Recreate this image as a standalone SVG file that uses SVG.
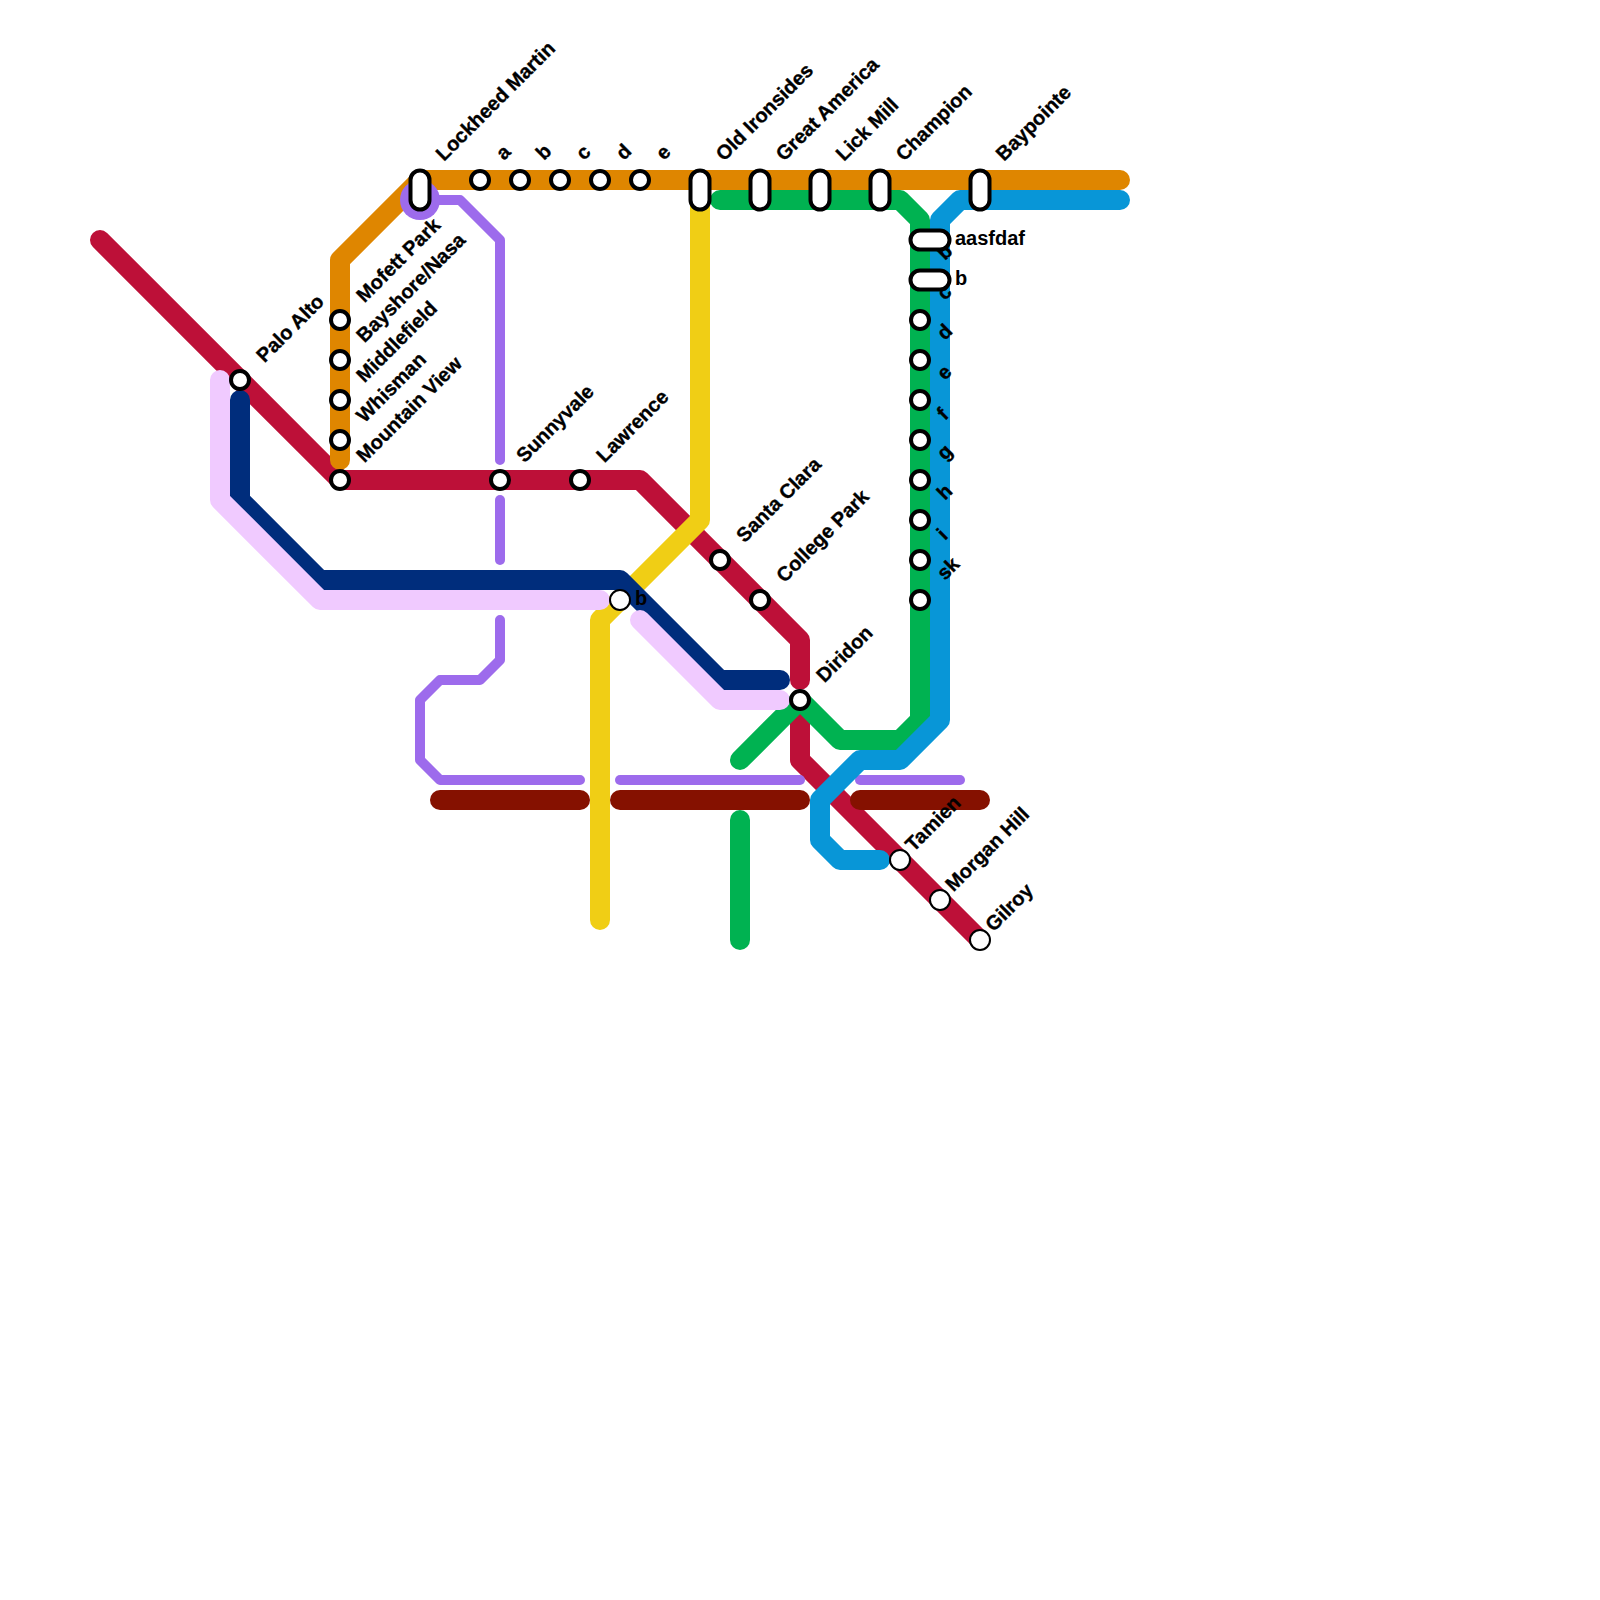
<svg xmlns="http://www.w3.org/2000/svg" width="1600" height="1600" viewBox="0 0 1600 1600">
<style>
.l{fill:none;stroke-linecap:round;stroke-linejoin:round;stroke-width:20}
.t{stroke-width:10}
.red{stroke:#bd1038}.or{stroke:#df8600}.yel{stroke:#f0ce15}.lav{stroke:#f0caff}.navy{stroke:#002d7c}.pur{stroke:#9d6bec}.dk{stroke:#851100}.grn{stroke:#00b251}.blu{stroke:#0896d7}
.s{fill:#fff;stroke:#000;stroke-width:4}
.s2{fill:#fff;stroke:#000;stroke-width:2}
text{font-family:"Liberation Sans",Arial,sans-serif;font-size:20px;font-weight:700;fill:#000}
.r{stroke:#000;stroke-width:.35}
</style>
<rect width="1600" height="1600" fill="#fff"/>
<g id="connectors">
<path class="l red" d="M100 240L340 480H640L800 640V680"/>
<path class="l red" d="M800 710V760L980 940"/>
<path class="l or" d="M340 460V260L420 180H1120"/>
<path class="l yel" d="M700 200V520L600 620V920"/>
<path class="l grn" d="M720 200H900L920 220V720L900 740H840L800 700L740 760"/>
<path class="l grn" d="M740 820V940"/>
<path class="l navy" d="M240 400V500L320 580H620L720 680H780"/>
<path class="l lav" d="M220 380V500L320 600H600"/>
<path class="l lav" d="M640 620L720 700H780"/>
<path class="l dk" d="M440 800H580"/>
<path class="l dk" d="M620 800H800"/>
<path class="l dk" d="M860 800H980"/>
<path class="l t pur" d="M420 200H460L500 240V460"/>
<path class="l t pur" d="M500 500V560"/>
<path class="l t pur" d="M500 620V660L480 680H440L420 700V760L440 780H580"/>
<path class="l t pur" d="M620 780H800"/>
<path class="l t pur" d="M860 780H960"/>
<path class="l blu" d="M1120 200H960L940 220V720L900 760H860L820 800V840L840 860H880"/>
</g>
<g id="stacked-labels">
<text class="r" transform="translate(945 261) rotate(-45)">b</text>
<text class="r" transform="translate(945 301) rotate(-45)">c</text>
</g>
<g id="n-lockheed"><circle cx="420" cy="200" r="20" fill="#9d6bec"/><rect class="s" x="410.500" y="170.500" width="19" height="39" rx="9.500"/><text class="r" transform="translate(444 162) rotate(-45)">Lockheed Martin</text></g>
<g id="n-a"><circle class="s" cx="480" cy="180" r="9"/><text class="r" transform="translate(504 161) rotate(-45)">a</text></g>
<g id="n-b"><circle class="s" cx="520" cy="180" r="9"/><text class="r" transform="translate(544 161) rotate(-45)">b</text></g>
<g id="n-c"><circle class="s" cx="560" cy="180" r="9"/><text class="r" transform="translate(584 161) rotate(-45)">c</text></g>
<g id="n-d"><circle class="s" cx="600" cy="180" r="9"/><text class="r" transform="translate(624 161) rotate(-45)">d</text></g>
<g id="n-e"><circle class="s" cx="640" cy="180" r="9"/><text class="r" transform="translate(664 161) rotate(-45)">e</text></g>
<g id="n-old"><rect class="s" x="690.500" y="170.500" width="19" height="39" rx="9.500"/><text class="r" transform="translate(724 162) rotate(-45)">Old Ironsides</text></g>
<g id="n-great"><rect class="s" x="750.500" y="170.500" width="19" height="39" rx="9.500"/><text class="r" transform="translate(784 162) rotate(-45)">Great America</text></g>
<g id="n-lick"><rect class="s" x="810.500" y="170.500" width="19" height="39" rx="9.500"/><text class="r" transform="translate(844 162) rotate(-45)">Lick Mill</text></g>
<g id="n-champion"><rect class="s" x="870.500" y="170.500" width="19" height="39" rx="9.500"/><text class="r" transform="translate(904 162) rotate(-45)">Champion</text></g>
<g id="n-baypointe"><rect class="s" x="970.500" y="170.500" width="19" height="39" rx="9.500"/><text class="r" transform="translate(1004 162) rotate(-45)">Baypointe</text></g>
<g id="n-aasfdaf"><rect class="s" x="910.500" y="230.500" width="39" height="19" rx="9.500"/><text x="955" y="245">aasfdaf</text></g>
<g id="n-b2"><rect class="s" x="910.500" y="270.500" width="39" height="19" rx="9.500"/><text x="955" y="285">b</text></g>
<g id="n-c1"><circle class="s" cx="920" cy="320" r="9"/><text class="r" transform="translate(945 341) rotate(-45)">d</text></g>
<g id="n-c2"><circle class="s" cx="920" cy="360" r="9"/><text class="r" transform="translate(945 381) rotate(-45)">e</text></g>
<g id="n-c3"><circle class="s" cx="920" cy="400" r="9"/><text class="r" transform="translate(945 421) rotate(-45)">f</text></g>
<g id="n-c4"><circle class="s" cx="920" cy="440" r="9"/><text class="r" transform="translate(945 461) rotate(-45)">g</text></g>
<g id="n-c5"><circle class="s" cx="920" cy="480" r="9"/><text class="r" transform="translate(945 501) rotate(-45)">h</text></g>
<g id="n-c6"><circle class="s" cx="920" cy="520" r="9"/><text class="r" transform="translate(945 541) rotate(-45)">i</text></g>
<g id="n-c7"><circle class="s" cx="920" cy="560" r="9"/><text class="r" transform="translate(945 581) rotate(-45)">sk</text></g>
<g id="n-c8"><circle class="s" cx="920" cy="600" r="9"/></g>
<g id="n-palo"><circle class="s" cx="240" cy="380" r="9"/><text class="r" transform="translate(264.500 363.500) rotate(-45)">Palo Alto</text></g>
<g id="n-mofett"><circle class="s" cx="340" cy="320" r="9"/><text class="r" transform="translate(364.500 303.500) rotate(-45)">Mofett Park</text></g>
<g id="n-bayshore"><circle class="s" cx="340" cy="360" r="9"/><text class="r" transform="translate(364.500 343.500) rotate(-45)">Bayshore/Nasa</text></g>
<g id="n-middlefield"><circle class="s" cx="340" cy="400" r="9"/><text class="r" transform="translate(364.500 383.500) rotate(-45)">Middlefield</text></g>
<g id="n-whisman"><circle class="s" cx="340" cy="440" r="9"/><text class="r" transform="translate(364.500 423.500) rotate(-45)">Whisman</text></g>
<g id="n-mv"><circle class="s" cx="340" cy="480" r="9"/><text class="r" transform="translate(364.500 463.500) rotate(-45)">Mountain View</text></g>
<g id="n-sunnyvale"><circle class="s" cx="500" cy="480" r="9"/><text class="r" transform="translate(524.500 463.500) rotate(-45)">Sunnyvale</text></g>
<g id="n-lawrence"><circle class="s" cx="580" cy="480" r="9"/><text class="r" transform="translate(604.500 463.500) rotate(-45)">Lawrence</text></g>
<g id="n-b3"><circle class="s2" cx="620" cy="600" r="10"/><text x="635" y="605">b</text></g>
<g id="n-santa"><circle class="s" cx="720" cy="560" r="9"/><text class="r" transform="translate(744.500 543.500) rotate(-45)">Santa Clara</text></g>
<g id="n-college"><circle class="s" cx="760" cy="600" r="9"/><text class="r" transform="translate(784.500 583.500) rotate(-45)">College Park</text></g>
<g id="n-diridon"><circle class="s" cx="800" cy="700" r="9"/><text class="r" transform="translate(824.500 683.500) rotate(-45)">Diridon</text></g>
<g id="n-tamien"><circle class="s2" cx="900" cy="860" r="10"/><text class="r" transform="translate(913.500 852.500) rotate(-45)">Tamien</text></g>
<g id="n-morgan"><circle class="s2" cx="940" cy="900" r="10"/><text class="r" transform="translate(953.500 892.500) rotate(-45)">Morgan Hill</text></g>
<g id="n-gilroy"><circle class="s2" cx="980" cy="940" r="10"/><text class="r" transform="translate(993.500 932.500) rotate(-45)">Gilroy</text></g>
</svg>
